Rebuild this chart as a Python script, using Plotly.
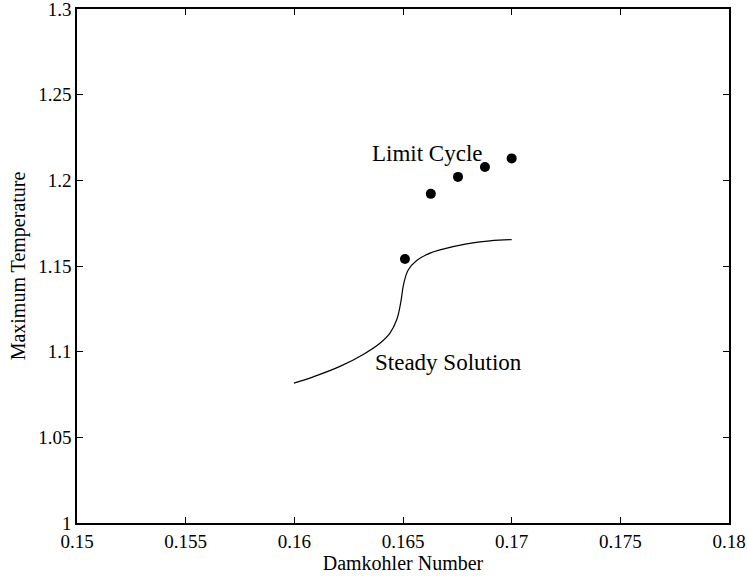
import plotly.graph_objects as go

# Steady solution curve
steady_x = [0.15998, 0.16087, 0.16210, 0.16317, 0.16394, 0.16440, 0.16471, 0.16489,
            0.16504, 0.16524, 0.16563, 0.16624, 0.16670, 0.16793, 0.16900, 0.17000]
steady_y = [1.0816, 1.0853, 1.0914, 1.0984, 1.1049, 1.1108, 1.1186, 1.1283,
            1.1400, 1.1477, 1.1532, 1.1575, 1.1594, 1.1629, 1.1647, 1.1654]

# Limit cycle maxima
cycle_x = [0.16509, 0.16628, 0.16753, 0.16877, 0.17000]
cycle_y = [1.1541, 1.1921, 1.2020, 1.2078, 1.2128]

x_ticks = [0.15, 0.155, 0.16, 0.165, 0.17, 0.175, 0.18]
x_ticktext = ["0.15", "0.155", "0.16", "0.165", "0.17", "0.175", "0.18"]
y_ticks = [1.0, 1.05, 1.1, 1.15, 1.2, 1.25, 1.3]
y_ticktext = ["1", "1.05", "1.1", "1.15", "1.2", "1.25", "1.3"]

FONT = "Liberation Serif, Times New Roman, serif"

fig = go.Figure()
fig.add_trace(go.Scatter(x=steady_x, y=steady_y, mode="lines",
                         line=dict(color="black", width=1.2, shape="spline", smoothing=1.1),
                         showlegend=False, hoverinfo="skip"))
fig.add_trace(go.Scatter(x=cycle_x, y=cycle_y, mode="markers",
                         marker=dict(color="black", size=10),
                         showlegend=False))

fig.add_annotation(x=0.16615, y=1.2154, text="Limit Cycle", showarrow=False,
                   font=dict(family=FONT, size=23, color="black"))
fig.add_annotation(x=0.16711, y=1.0935, text="Steady Solution", showarrow=False,
                   font=dict(family=FONT, size=23, color="black"))

axis_common = dict(showgrid=False, zeroline=False, showline=True, linecolor="black",
                   linewidth=1.5, mirror="ticks", ticks="inside", ticklen=6,
                   tickcolor="black", tickwidth=1, ticklabeloverflow="allow",
                   tickfont=dict(family=FONT, size=19, color="black"))

fig.update_xaxes(range=[0.15, 0.18], tickvals=x_ticks, ticktext=x_ticktext,
                 title=dict(text="Damkohler Number", standoff=0,
                            font=dict(family=FONT, size=20, color="black")),
                 **axis_common)
fig.update_yaxes(range=[1.0, 1.3], tickvals=y_ticks, ticktext=y_ticktext,
                 title=dict(text="Maximum Temperature", standoff=7,
                            font=dict(family=FONT, size=20, color="black")),
                 **axis_common)

fig.update_layout(width=748, height=576, autosize=False,
                  margin=dict(l=77, r=19, t=9, b=53, autoexpand=False),
                  plot_bgcolor="white", paper_bgcolor="white",
                  font=dict(family=FONT, color="black"))

fig.write_html("out.html")
